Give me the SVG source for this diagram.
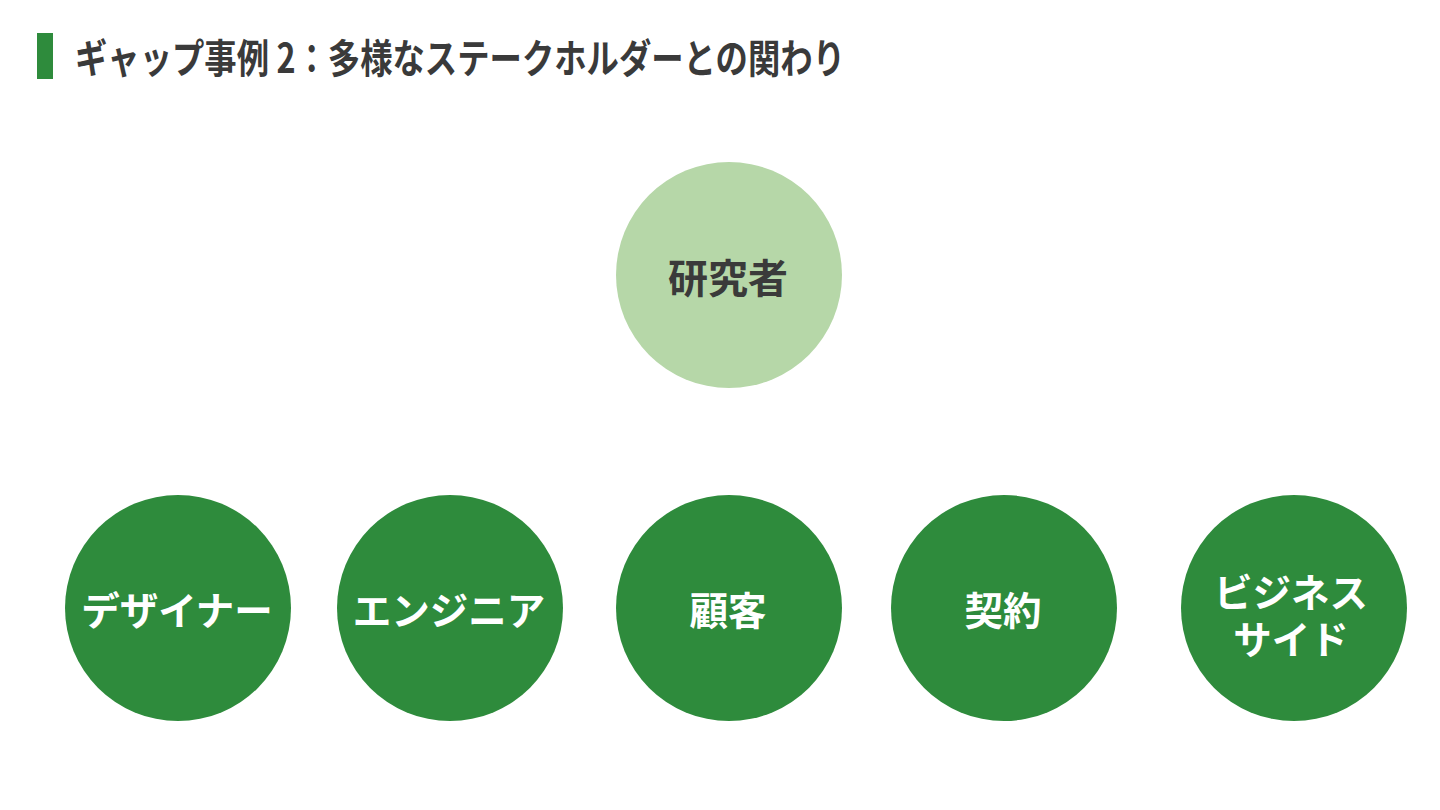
<svg xmlns="http://www.w3.org/2000/svg" width="1440" height="810" viewBox="0 0 1440 810">
<style>
.title{font-family:"Noto Sans CJK JP","Liberation Sans",sans-serif;font-weight:700;font-size:40px;fill:#3a3a3a}
.dark{fill:#2e8b3c}
.light{fill:#b6d7a8}
.lbl{font-family:"Noto Sans CJK JP","Liberation Sans",sans-serif;font-weight:700;font-size:38.5px;text-anchor:middle;dominant-baseline:central}
.w{fill:#ffffff}
.g{fill:#3a3a3a;font-size:40px}
</style>
<rect x="0" y="0" width="1440" height="810" fill="#ffffff"/>
<rect x="37" y="33" width="16" height="46" fill="#2e8b3c"/>
<text class="title" x="75" y="73" textLength="770" lengthAdjust="spacingAndGlyphs">ギャップ事例 2：多様なステークホルダーとの関わり</text>
<g id="connectors"></g>
<g id="researcher"><circle class="light" cx="729" cy="275" r="113"/><text class="lbl g" x="728" y="276">研究者</text></g>
<g id="designer"><circle class="dark" cx="178" cy="608" r="113"/><text class="lbl w" x="177" y="608">デザイナー</text></g>
<g id="engineer"><circle class="dark" cx="450" cy="608" r="113"/><text class="lbl w" x="449" y="608">エンジニア</text></g>
<g id="customer"><circle class="dark" cx="729" cy="608" r="113"/><text class="lbl w" x="728" y="608">顧客</text></g>
<g id="contract"><circle class="dark" cx="1004" cy="608" r="113"/><text class="lbl w" x="1003" y="608">契約</text></g>
<g id="business"><circle class="dark" cx="1294" cy="608" r="113"/><text class="lbl w" x="1291" y="590">ビジネス</text><text class="lbl w" x="1291" y="637">サイド</text></g>
</svg>
